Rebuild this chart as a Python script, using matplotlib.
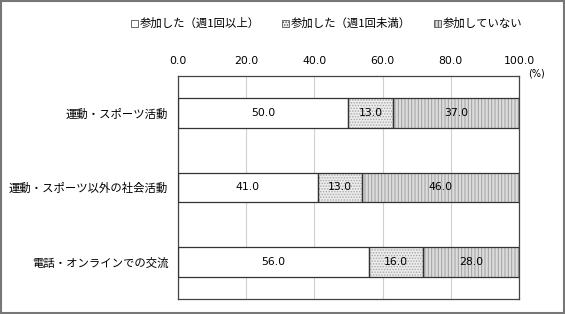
import matplotlib.pyplot as plt
from matplotlib.patches import Patch, Rectangle

plt.rcParams['font.family'] = ['Noto Sans CJK JP', 'DejaVu Sans']
plt.rcParams['hatch.linewidth'] = 0.7

categories = ['運動・スポーツ活動', '運動・スポーツ以外の社会活動', '電話・オンラインでの交流']
weekly = [50.0, 41.0, 56.0]
less_weekly = [13.0, 13.0, 16.0]
none = [37.0, 46.0, 28.0]
series_names = ['参加した（週1回以上）', '参加した（週1回未満）', '参加していない']
xticks = [0, 20, 40, 60, 80, 100]

fig = plt.figure(figsize=(5.65, 3.14), dpi=100)
ax = fig.add_axes([0.315, 0.048, 0.6035, 0.71])

styles = [
    dict(face='white', hatch=None, hcol='white'),
    dict(face='#ececec', hatch='......', hcol='#a8a8a8'),
    dict(face='#dcdcdc', hatch='|||||', hcol='#a0a0a0'),
]

y = list(range(len(categories)))
left = [0.0] * len(categories)
for vals, st in zip([weekly, less_weekly, none], styles):
    plt.rcParams['hatch.color'] = st['hcol']
    ax.barh(y, vals, left=left, height=0.4, color=st['face'],
            hatch=st['hatch'], linewidth=0, zorder=2)
    ax.barh(y, vals, left=left, height=0.4, fill=False,
            edgecolor='#333333', linewidth=0.9, zorder=3)
    for yi, l, v in zip(y, left, vals):
        ax.text(l + v / 2, yi, f'{v:.1f}', ha='center', va='center',
                fontsize=7.8, family='DejaVu Sans', zorder=4)
    left = [l + v for l, v in zip(left, vals)]

ax.set_xlim(0, 100)
ax.set_ylim(2.5, -0.5)
ax.set_xticks(xticks)
ax.set_xticklabels([f'{t:.1f}' for t in xticks], fontsize=7.8, family='DejaVu Sans')
ax.xaxis.tick_top()
ax.tick_params(axis='x', length=0, pad=7)
ax.set_yticks(y)
ax.set_yticklabels(categories, fontsize=8.2)
ax.tick_params(axis='y', length=0, pad=7)
ax.grid(axis='x', color='#d0d0d0', linewidth=0.8, zorder=0)
ax.set_axisbelow(True)
for s in ax.spines.values():
    s.set_color('#444444')
    s.set_linewidth(0.9)

fig.text(0.934, 0.765, '(%)', fontsize=7, family='DejaVu Sans', ha='left', va='center')

handles = []
for name, st in zip(series_names, styles):
    plt.rcParams['hatch.color'] = st['hcol']
    handles.append(Patch(facecolor=st['face'], hatch=st['hatch'],
                         edgecolor='#555555', linewidth=0.6, label=name))
fig.legend(handles=handles, loc='center', bbox_to_anchor=(0.578, 0.925), ncol=3,
           frameon=False, fontsize=8.2, handlelength=0.6, handleheight=0.6,
           handletextpad=0.15, columnspacing=2.0)

fig.patches.append(Rectangle((0.002, 0.003), 0.996, 0.994, transform=fig.transFigure,
                             fill=False, edgecolor='#777777', linewidth=1.5))

fig.savefig('out.png', dpi=100)
